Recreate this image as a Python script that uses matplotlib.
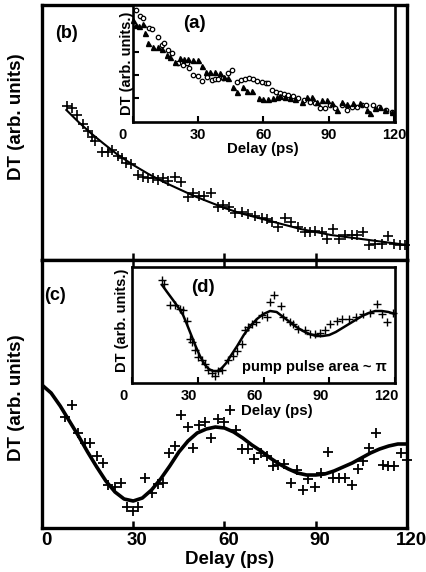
import matplotlib
matplotlib.use("Agg")
import matplotlib.pyplot as plt
from matplotlib.transforms import ScaledTranslation

plt.rcParams['font.family'] = ['Liberation Sans', 'DejaVu Sans']
plt.rcParams['font.weight'] = 'bold'

# ---------------- data ----------------
# Panel (b): delay (ps) and DT (arb. units)
b_t = [8.2, 9.9, 11.5, 13.5, 15.1, 16.4, 17.4, 19.7, 21.7, 23.0, 25.0, 26.3, 27.6, 29.3, 31.6,
       33.2, 34.8, 36.5, 38.1, 39.8, 41.4, 43.7, 45.7, 48.0, 49.6, 51.6, 53.3, 55.6, 57.9, 59.5,
       61.5, 63.5, 65.7, 67.7, 70.0, 72.3, 73.9, 75.6, 77.6, 79.9, 81.9, 84.2, 86.5, 88.1, 89.7,
       92.0, 93.7, 95.7, 97.6, 99.6, 101.9, 103.5, 105.5, 107.5, 109.5, 111.8, 113.8, 115.7, 117.7, 119.3]
b_dt = [154, 152, 145, 136, 129, 123, 119, 108, 108, 110, 104, 102, 97, 96, 85,
        83, 82, 82, 80, 82, 79, 83, 78, 63, 67, 64, 64, 67, 53, 55,
        53, 47, 48, 46, 44, 42, 41, 38, 33, 42, 38, 33, 28, 28, 29,
        28, 21, 31, 21, 25, 25, 25, 28, 15, 16, 16, 24, 16, 15, 15]
b_fit_t = [8, 12, 16, 20, 25, 30, 35, 40, 45, 50, 55, 60, 65, 70, 75, 80, 85, 90, 95, 100, 105, 110, 115, 120]
b_fit = [150, 138, 127, 117, 105, 95, 86, 78, 71, 64, 58, 52, 47, 43, 39, 35, 31, 28, 25, 23, 21, 19, 17, 15]

# Inset (a): two data sets (open circles, filled triangles)
a_circ_t = [1.6, 3.4, 4.8, 7.6, 8.9, 11.7, 13.5, 14.4, 16.3, 18.1, 20.9, 23.2, 25.0, 25.9, 27.8,
            30.0, 31.9, 34.2, 36.5, 37.8, 39.2, 41.5, 43.8, 45.6, 47.9, 49.8, 51.6, 53.4, 55.3, 57.1,
            59.4, 61.2, 62.2, 64.0, 65.8, 67.7, 69.5, 71.3, 73.6, 75.9, 78.7, 81.4, 83.7, 86.0, 88.3,
            90.6, 92.9, 96.1, 98.4, 100.7, 103.0, 105.3, 107.1, 110.3, 113.1, 116.3, 119.0]
a_circ = [112, 106, 104, 94, 93, 85, 77, 79, 72, 69, 59, 57, 59, 54, 47,
          46, 41, 45, 42, 43, 43, 44, 49, 52, 40, 42, 43, 44, 43, 41,
          40, 39, 39, 32, 30, 29, 28, 27, 26, 24, 22, 20, 19, 14, 14,
          17, 14, 17, 12, 15, 15, 17, 17, 17, 15, 12, 10]
a_tri_t = [0.2, 1.6, 3.0, 4.8, 5.7, 7.1, 9.4, 11.7, 13.5, 15.8, 17.2, 19.5, 21.8, 23.6, 25.5,
           27.8, 30.0, 31.9, 33.7, 35.6, 37.8, 40.1, 42.0, 43.8, 46.1, 47.9, 50.7, 52.5, 54.8, 58.0,
           59.9, 62.2, 64.4, 66.3, 67.7, 70.0, 72.2, 74.5, 77.8, 80.0, 82.3, 84.6, 86.9, 89.2, 91.5,
           93.8, 96.1, 98.4, 101.1, 104.4, 107.6, 109.0, 111.2, 113.5, 115.8, 119.0]
a_tri = [102, 97, 96, 98, 89, 79, 75, 75, 73, 67, 65, 60, 64, 63, 63,
         62, 62, 56, 50, 50, 50, 49, 45, 44, 35, 30, 35, 31, 31, 24,
         23, 23, 24, 25, 26, 25, 24, 23, 20, 25, 25, 20, 22, 22, 19,
         12, 20, 18, 19, 19, 12, 9, 14, 15, 12, 10]

# Panel (c)
c_t = [7.6, 9.9, 11.8, 14.1, 15.8, 18.1, 20.1, 21.7, 24.0, 26.0, 28.0, 29.9, 31.6, 33.9, 36.2,
       38.1, 39.8, 41.7, 43.7, 45.7, 48.0, 49.6, 51.6, 53.6, 55.6, 57.9, 59.8, 61.8, 63.8, 65.7,
       67.7, 69.7, 72.0, 74.0, 75.9, 77.6, 79.6, 81.9, 83.8, 85.8, 87.4, 89.7, 91.7, 94.0, 95.7,
       97.6, 99.6, 101.9, 103.9, 105.5, 107.5, 109.8, 112.1, 113.7, 115.7, 118.0, 120.0]
c_dt = [111, 123, 95, 85, 85, 72, 65, 43, 41, 45, 21, 17, 21, 50, 35,
        44, 45, 75, 82, 113, 101, 80, 103, 106, 90, 109, 106, 118, 98, 79,
        79, 69, 75, 72, 62, 63, 64, 45, 58, 38, 49, 41, 55, 76, 50,
        50, 50, 43, 59, 67, 80, 95, 63, 62, 62, 75, 68]
c_fit_t = [0, 3, 6, 9, 12, 15, 18, 21, 24, 27, 30, 33, 36, 39, 42, 45, 48, 51, 54, 57, 60,
           63, 66, 69, 72, 75, 78, 81, 84, 87, 90, 93, 96, 99, 102, 105, 108, 111, 114, 117, 120]
c_fit = [143, 135, 122, 107, 92, 76, 61, 47, 36, 29, 27, 30, 38, 49, 62, 76, 87, 95, 99, 101, 100,
         96, 90, 83, 77, 70, 64, 59, 55, 53, 53, 54, 57, 61, 65, 70, 75, 79, 82, 84, 84]

# Inset (d)
d_t = [13.7, 14.6, 17.4, 19.6, 21.9, 23.3, 25.1, 26.5, 27.4, 28.8, 30.1, 32.0, 33.3, 34.7, 36.5,
       37.9, 39.3, 41.1, 43.8, 46.1, 47.9, 50.2, 51.6, 53.0, 54.8, 56.6, 59.4, 61.6, 63.0, 64.8,
       68.0, 68.9, 72.1, 73.5, 75.8, 79.0, 81.3, 83.6, 85.8, 88.1, 90.4, 93.6, 95.9, 99.1, 102.3,
       105.5, 108.7, 111.9, 114.2, 116.4, 119.2]
d_dt = [103, 99, 78, 78, 74, 73, 62, 44, 41, 33, 26, 23, 19, 13, 10,
        7, 12, 13, 23, 27, 32, 39, 53, 56, 59, 61, 68, 66, 81, 88,
        77, 66, 61, 59, 54, 53, 49, 49, 50, 53, 59, 62, 64, 64, 66,
        69, 70, 79, 69, 61, 70]
d_fit_t = [13.7, 16, 18.7, 21, 23.3, 25, 27, 29, 31, 33, 35, 37, 39, 41, 43, 45, 48, 51, 54, 57, 60,
           63, 66, 69, 72, 75, 78, 81, 84, 87, 90, 93, 96, 99, 102, 105, 108, 111, 114, 117, 120]
d_fit = [98, 91, 83, 76, 68, 59, 48, 37, 27, 19, 14, 12, 12, 15, 20, 27, 37, 48, 57, 64, 69,
         72, 71, 66, 61, 56, 52, 49, 47, 47, 48, 51, 55, 59, 63, 67, 70, 72, 72, 71, 69]

x_ticks = [0, 30, 60, 90, 120]
a_yticks = [24, 47, 70, 95]

# ---------------- figure ----------------
W, H = 427, 572
fig = plt.figure(figsize=(W / 100, H / 100), dpi=100)


def rect(l, t, r, b):
    return [l / W, (H - b) / H, (r - l) / W, (b - t) / H]


def px_shift(labels, dx):
    for lab in labels:
        lab.set_transform(lab.get_transform() + ScaledTranslation(dx / 100, 0, fig.dpi_scale_trans))


main_lw = 2.4
inset_lw = 1.9

# Panel (b)
axb = fig.add_axes(rect(42, 5, 407, 260))
axb.plot(b_t, b_dt, '+', color='black', ms=6.5, mew=1.2, clip_on=False)
axb.plot(b_fit_t, b_fit, '-', color='black', lw=1.5)
axb.set_xlim(0, 120)
axb.set_ylim(0, 255)
axb.set_xticks([30, 60, 90])
axb.set_yticks([])
axb.tick_params(axis='x', direction='in', length=5, width=1.8, labelbottom=False)
for s in axb.spines.values():
    s.set_linewidth(main_lw)
fig.text(67 / W, 1 - 33 / H, '(b)', ha='center', va='center', fontsize=13, fontweight='bold')
fig.text(17 / W, 1 - 117 / H, 'DT (arb. units)', rotation=90, ha='center', va='center',
         fontsize=13.5, fontweight='bold')

# Panel (c)
axc = fig.add_axes(rect(42, 260, 407, 528))
axc.plot(c_t, c_dt, '+', color='black', ms=7, mew=1.3, clip_on=False)
axc.plot(c_fit_t, c_fit, '-', color='black', lw=2.6)
axc.set_xlim(0, 120)
axc.set_ylim(0, 268)
axc.set_xticks(x_ticks)
axc.set_yticks([])
axc.tick_params(axis='x', direction='in', length=5, width=1.8, top=True, pad=3,
                labelsize=13.5)
for s in axc.spines.values():
    s.set_linewidth(main_lw)
for lab in axc.get_xticklabels():
    lab.set_fontweight('bold')
px_shift(axc.get_xticklabels(), 4)
fig.text(55 / W, 1 - 295 / H, '(c)', ha='center', va='center', fontsize=13, fontweight='bold')
fig.text(17 / W, 1 - 398 / H, 'DT (arb. units)', rotation=90, ha='center', va='center',
         fontsize=13.5, fontweight='bold')
fig.text(230 / W, 1 - 559 / H, 'Delay (ps)', ha='center', va='center', fontsize=13.5,
         fontweight='bold')

# Inset (a)
axa = fig.add_axes(rect(132.5, 5, 395, 122))
axa.set_facecolor('white')
axa.plot(a_circ_t, a_circ, 'o', mfc='white', mec='black', ms=3.2, mew=0.9, clip_on=False)
axa.plot(a_tri_t, a_tri, '^', color='black', ms=3.6, clip_on=False)
axa.set_xlim(0, 120.5)
axa.set_ylim(0, 117)
axa.set_xticks(x_ticks)
axa.set_yticks(a_yticks)
axa.tick_params(axis='both', direction='in', length=4, width=1.5, pad=4, labelsize=10.5)
axa.tick_params(axis='y', labelleft=False)
for s in axa.spines.values():
    s.set_linewidth(inset_lw)
for lab in axa.get_xticklabels():
    lab.set_fontweight('bold')
px_shift(axa.get_xticklabels()[:1], -10)
fig.text(194 / W, 1 - 24 / H, '(a)', ha='center', va='center', fontsize=13.5, fontweight='bold')
fig.text(127 / W, 1 - 63 / H, 'DT (arb. units.)', rotation=90, ha='center', va='center',
         fontsize=10.5, fontweight='bold')
fig.text(263 / W, 1 - 149 / H, 'Delay (ps)', ha='center', va='center', fontsize=10.8,
         fontweight='bold')

# Inset (d)
axd = fig.add_axes(rect(132, 267, 395, 383))
axd.set_facecolor('white')
axd.plot(d_t, d_dt, '+', color='black', ms=5.5, mew=1.0, clip_on=False)
axd.plot(d_fit_t, d_fit, '-', color='black', lw=1.8)
axd.set_xlim(0, 120)
axd.set_ylim(0, 116)
axd.set_xticks(x_ticks)
axd.set_yticks([])
axd.tick_params(axis='x', direction='in', length=4, width=1.5, pad=4, labelsize=10.5)
for s in axd.spines.values():
    s.set_linewidth(inset_lw)
for lab in axd.get_xticklabels():
    lab.set_fontweight('bold')
px_shift(axd.get_xticklabels(), -9)
fig.text(203 / W, 1 - 287 / H, '(d)', ha='center', va='center', fontsize=13.5, fontweight='bold')
fig.text(122 / W, 1 - 320 / H, 'DT (arb. units.)', rotation=90, ha='center', va='center',
         fontsize=10.5, fontweight='bold')
fig.text(277 / W, 1 - 411 / H, 'Delay (ps)', ha='center', va='center', fontsize=10.8,
         fontweight='bold')
fig.text(314 / W, 1 - 367 / H, 'pump pulse area ~ \u03c0', ha='center', va='center',
         fontsize=10.5, fontweight='bold')

fig.savefig('out.png', dpi=100, facecolor='white')
